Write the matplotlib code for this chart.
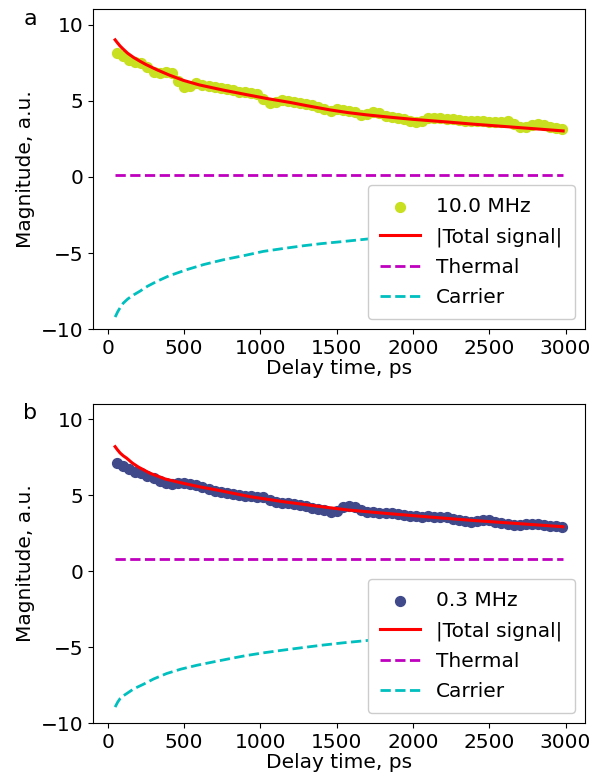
"""
Two-panel decay plot: measured magnitude vs delay time with fitted components
"""

import numpy as np
import matplotlib
matplotlib.use('Agg')
import matplotlib.pyplot as plt
plt.rcParams['font.family'] = 'DejaVu Sans'
plt.rcParams['font.size'] = 14.5

# Measured points (delay in ps), sampled every 40 ps
delay = np.arange(60, 2981, 40)

meas_10mhz = [8.15, 7.95, 7.65, 7.55, 7.5, 7.2, 6.9, 6.85, 6.9, 6.85,
              6.3, 5.9, 6.0, 6.15, 6.05, 5.95, 5.9, 5.85, 5.75, 5.7,
              5.6, 5.55, 5.5, 5.45, 5.1, 4.85, 4.95, 5.05, 5.0, 4.9,
              4.85, 4.8, 4.75, 4.6, 4.45, 4.3, 4.45, 4.4, 4.35, 4.25,
              4.05, 4.1, 4.25, 4.2, 4.0, 3.95, 3.9, 3.8, 3.65, 3.6,
              3.7, 3.85, 3.9, 3.85, 3.8, 3.8, 3.75, 3.7, 3.68, 3.66,
              3.65, 3.6, 3.58, 3.62, 3.66, 3.5, 3.3, 3.3, 3.4, 3.5,
              3.4, 3.3, 3.2, 3.12]

meas_03mhz = [7.1, 6.95, 6.7, 6.55, 6.45, 6.25, 6.15, 5.95, 5.8, 5.75,
              5.8, 5.8, 5.75, 5.65, 5.55, 5.4, 5.25, 5.2, 5.15, 5.05,
              5.0, 4.95, 4.95, 4.9, 4.85, 4.7, 4.55, 4.45, 4.45, 4.4,
              4.35, 4.3, 4.18, 4.1, 4.0, 3.92, 3.95, 4.2, 4.3, 4.2,
              4.0, 3.9, 3.9, 3.85, 3.82, 3.8, 3.78, 3.7, 3.65, 3.6,
              3.58, 3.6, 3.55, 3.58, 3.55, 3.45, 3.35, 3.28, 3.25, 3.3,
              3.35, 3.35, 3.25, 3.15, 3.1, 3.05, 3.05, 3.1, 3.12, 3.1,
              3.05, 3.0, 2.95, 2.92]

# Fitted |total| curves
total_t_10mhz = [48, 62, 80, 100, 130, 168, 210, 250, 321, 400, 495, 600, 757,
                 900, 1041, 1200, 1303, 1457, 1576, 1700, 1850, 2000, 2220,
                 2400, 2600, 2800, 2984]
total_10mhz = [9.0, 8.82, 8.6, 8.4, 8.12, 7.85, 7.6, 7.38, 7.04, 6.7, 6.34,
               6.04, 5.7, 5.42, 5.15, 4.88, 4.68, 4.4, 4.22, 4.07, 3.92,
               3.78, 3.61, 3.46, 3.31, 3.16, 3.02]

total_t_03mhz = [48, 62, 80, 100, 124, 160, 200, 277, 380, 495, 600, 714, 932,
                 1150, 1368, 1576, 1800, 2000, 2220, 2400, 2600, 2800, 2984]
total_03mhz = [8.19, 8.0, 7.78, 7.6, 7.43, 7.12, 6.85, 6.44, 6.05, 5.78, 5.55,
               5.34, 4.9, 4.57, 4.28, 4.02, 3.82, 3.65, 3.47, 3.33, 3.19,
               3.05, 2.92]

# Thermal component (constant) and carrier component
flat_t = [48, 2984]
thermal_10mhz = [0.11, 0.11]
thermal_03mhz = [0.82, 0.82]

carrier_t_10mhz = [48, 54, 65, 80, 102, 130, 160, 211, 260, 321, 400, 517, 630,
                   757, 900, 1019, 1150, 1281, 1400, 1543, 1718, 2000, 2500, 2984]
carrier_10mhz = [-9.2, -9.08, -8.85, -8.6, -8.28, -8.02, -7.8, -7.5, -7.18,
                 -6.86, -6.5, -6.09, -5.75, -5.44, -5.15, -4.89, -4.7, -4.52,
                 -4.38, -4.24, -4.06, -3.8, -3.35, -2.95]

carrier_t_03mhz = [48, 54, 65, 80, 100, 124, 170, 233, 300, 386, 480, 583, 700,
                   801, 900, 1019, 1150, 1281, 1400, 1543, 1718, 2000, 2500, 2984]
carrier_03mhz = [-8.95, -8.83, -8.62, -8.4, -8.22, -8.06, -7.75, -7.45, -7.1,
                 -6.74, -6.45, -6.2, -5.96, -5.76, -5.57, -5.38, -5.2, -5.03,
                 -4.88, -4.72, -4.55, -4.3, -3.98, -3.7]

panels = [
    ('a', '10.0 MHz', '#c8e020', meas_10mhz, total_t_10mhz, total_10mhz,
     thermal_10mhz, carrier_t_10mhz, carrier_10mhz),
    ('b', '0.3 MHz', '#404a8a', meas_03mhz, total_t_03mhz, total_03mhz,
     thermal_03mhz, carrier_t_03mhz, carrier_03mhz),
]

fig = plt.figure(figsize=(6.01, 7.82), dpi=100)
boxes = [[0.155, 0.579, 0.818, 0.409], [0.155, 0.0754, 0.818, 0.408]]

for box, (tag, freq, color, meas, tt, total, thermal, ct, carrier) in zip(boxes, panels):
    ax = fig.add_axes(box)
    ax.scatter(delay, meas, s=50, color=color, label=freq, zorder=2)
    ax.plot(tt, total, color='red', lw=2.2, label='|Total signal|', zorder=3)
    ax.plot(flat_t, thermal, 'm--', lw=2, label='Thermal')
    ax.plot(ct, carrier, 'c--', lw=2, label='Carrier')
    ax.set_xlim(-96, 3126)
    ax.set_ylim(-10, 11)
    ax.set_yticks([-10, -5, 0, 5, 10])
    ax.set_xlabel('Delay time, ps', labelpad=1)
    ax.set_ylabel('Magnitude, a.u.')
    ax.legend(loc='lower right', framealpha=1, handletextpad=0.8,
              borderpad=0.6, labelspacing=0.55)
    fig.text(0.05, box[1] + box[3] - 0.012, tag, fontsize=16, ha='center', va='center')

plt.savefig('out.png', dpi=100)
plt.close()
